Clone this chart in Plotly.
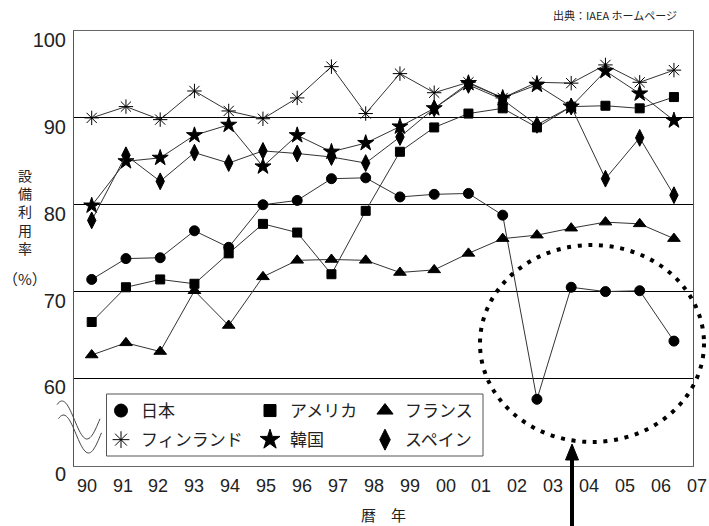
import numpy as np
import plotly.graph_objects as go

# ---------------- data ----------------
years = list(range(1990, 2008))
year_labels = ["90", "91", "92", "93", "94", "95", "96", "97", "98", "99",
               "00", "01", "02", "03", "04", "05", "06", "07"]

japan = [71.4, 73.8, 73.9, 77.0, 75.1, 80.0, 80.5, 83.0, 83.1, 80.9,
         81.2, 81.3, 78.8, 57.6, 70.5, 70.0, 70.1, 64.3]
usa = [66.5, 70.5, 71.4, 70.9, 74.4, 77.8, 76.8, 72.0, 79.3, 86.1,
       88.9, 90.5, 91.1, 88.9, 91.3, 91.4, 91.1, 92.4]
france = [62.7, 64.1, 63.1, 70.1, 66.1, 71.7, 73.6, 73.7, 73.6, 72.2,
          72.5, 74.4, 76.1, 76.5, 77.3, 78.0, 77.8, 76.1]
finland = [90.0, 91.3, 89.8, 93.1, 90.8, 89.9, 92.3, 95.9, 90.5, 95.1,
           92.9, 94.1, 92.3, 94.1, 94.0, 96.1, 94.1, 95.5]
korea = [79.9, 85.0, 85.4, 88.0, 89.2, 84.4, 88.0, 86.1, 87.1, 89.0,
         91.1, 94.0, 92.3, 93.8, 91.3, 95.4, 92.8, 89.7]
spain = [78.2, 85.7, 82.7, 86.0, 84.8, 86.2, 85.9, 85.5, 84.8, 87.8,
         91.1, 93.8, 92.1, 89.2, 91.3, 83.0, 87.7, 81.1]

y_tick_vals = [50, 60, 70, 80, 90, 100]
y_tick_text = ["0", "60", "70", "80", "90", "100"]
y_title = "設<br>備<br>利<br>用<br>率"

# ---------------- layout geometry ----------------
W, H = 709, 526
ML, MR, MT, MB = 74, 16, 31, 60
PW, PH = W - ML - MR, H - MT - MB


def px(p):
    return (p - ML) / PW


def py(p):
    return (H - MB - p) / PH


FONT = "Liberation Sans, Arial, Noto Sans CJK JP"
JFONT = "Noto Sans CJK JP, Liberation Sans"
LINE_C = "#333333"

series = [
    ("日本", japan, dict(symbol="circle", size=10), dict(symbol="circle", size=13), "legend"),
    ("フィンランド", finland, dict(symbol="asterisk-open", size=12), dict(symbol="asterisk-open", size=14), "legend"),
    ("アメリカ", usa, dict(symbol="square", size=9), dict(symbol="square", size=12), "legend2"),
    ("韓国", korea, dict(symbol="star", size=12), dict(symbol="star", size=15), "legend2"),
    ("フランス", france, dict(symbol="triangle-up", size=11), dict(symbol="triangle-up", size=14), "legend3"),
    ("スペイン", spain, dict(symbol="diamond-tall", size=12), dict(symbol="diamond-tall", size=15), "legend3"),
]

fig = go.Figure()
for name, vals, mk, lmk, lg in series:
    fig.add_trace(go.Scatter(
        x=years, y=vals, mode="lines+markers", name=name, showlegend=False,
        line=dict(color=LINE_C, width=1),
        marker=dict(color="black", line=dict(color="black", width=1), **mk),
        hoverinfo="skip"))
for name, vals, mk, lmk, lg in series:
    fig.add_trace(go.Scatter(
        x=[None], y=[None], mode="markers", name=name, showlegend=True,
        legend=lg, legendgroup=name,
        marker=dict(color="black", line=dict(color="black", width=1), **lmk)))

# ---------------- shapes ----------------
shapes = []
# legend box
shapes.append(dict(type="rect", xref="paper", yref="paper",
                   x0=px(106.5), x1=px(483), y0=py(456), y1=py(394),
                   line=dict(color="#555555", width=1), fillcolor="white", layer="below"))
# wavy break marks
xs = np.linspace(57, 100, 40)
for dx, dy in [(0, 0), (1.5, 14)]:
    ys = 420 - 19 * np.cos(2 * np.pi * (xs - 62) / 50)
    pts = " L ".join(f"{px(x + dx):.5f},{py(y + dy):.5f}" for x, y in zip(xs, ys))
    shapes.append(dict(type="path", xref="paper", yref="paper", path="M " + pts,
                       line=dict(color="#444444", width=1)))
# dotted ellipse
shapes.append(dict(type="circle", xref="paper", yref="paper",
                   x0=px(480), x1=px(704), y0=py(442), y1=py(245),
                   line=dict(color="black", width=4, dash="4px,6.7px")))
# arrow
shapes.append(dict(type="line", xref="paper", yref="paper",
                   x0=px(572), x1=px(572), y0=py(530), y1=py(456),
                   line=dict(color="black", width=4)))
shapes.append(dict(type="path", xref="paper", yref="paper",
                   path=f"M {px(572)},{py(444)} L {px(565.5)},{py(460)} L {px(578.5)},{py(460)} Z",
                   fillcolor="black", line=dict(color="black", width=1)))

# ---------------- annotations ----------------
ann = []
for i, lab in enumerate(year_labels):
    ann.append(dict(text=lab, xref="paper", yref="paper",
                    x=px(86.7 + i * 35.88), y=py(486), showarrow=False,
                    xanchor="center", yanchor="middle",
                    font=dict(family=FONT, size=18, color="#222222")))
ann.append(dict(text="暦　年", xref="paper", yref="paper", x=px(383), y=py(514),
                showarrow=False, xanchor="center", yanchor="middle",
                font=dict(family=JFONT, size=15, color="#222222")))
ann.append(dict(text=y_title, xref="paper", yref="paper", x=px(25), y=py(211),
                showarrow=False, xanchor="center", yanchor="middle",
                font=dict(family=JFONT, size=14, color="#222222")))
ann.append(dict(text="（%）", xref="paper", yref="paper", x=px(24.5), y=py(278),
                showarrow=False, xanchor="center", yanchor="middle",
                font=dict(family=JFONT, size=15, color="#222222")))
ann.append(dict(text="出典：IAEA ホームページ", xref="paper", yref="paper",
                x=px(679), y=py(15), showarrow=False, xanchor="right", yanchor="middle",
                font=dict(family=JFONT, size=11, color="#222222")))

legend_common = dict(orientation="v", yanchor="top", xanchor="left",
                     bgcolor="rgba(0,0,0,0)", borderwidth=0, tracegroupgap=4,
                     itemwidth=30, font=dict(family=JFONT, size=17, color="#222222"),
                     itemclick=False, itemdoubleclick=False)

fig.update_layout(
    width=W, height=H,
    margin=dict(l=ML, r=MR, t=MT, b=MB, pad=0),
    paper_bgcolor="white", plot_bgcolor="white",
    font=dict(family=FONT, color="#222222"),
    xaxis=dict(range=[1990 - 17.7 / 34.25, 1990 - 17.7 / 34.25 + PW / 34.25],
               showgrid=False, zeroline=False, showticklabels=False, ticks="",
               showline=True, linecolor="#666666", linewidth=1, mirror=True),
    yaxis=dict(range=[49.92, 100.005], tickvals=y_tick_vals, ticktext=y_tick_text,
               showgrid=True, gridcolor="black", gridwidth=1, zeroline=False,
               ticks="", ticklabelshift=9, ticklabelstandoff=3,
               tickfont=dict(family=FONT, size=20, color="#222222"),
               showline=True, linecolor="#555555", linewidth=1, mirror=True),
    legend=dict(x=px(101), y=py(393), **legend_common),
    legend2=dict(x=px(250), y=py(393), **legend_common),
    legend3=dict(x=px(365), y=py(393), **legend_common),
    shapes=shapes,
    annotations=ann,
    showlegend=True,
)

fig.write_html("out.html", config={"displayModeBar": False},
               post_script="document.body.style.margin='0';document.body.style.padding='0';")
